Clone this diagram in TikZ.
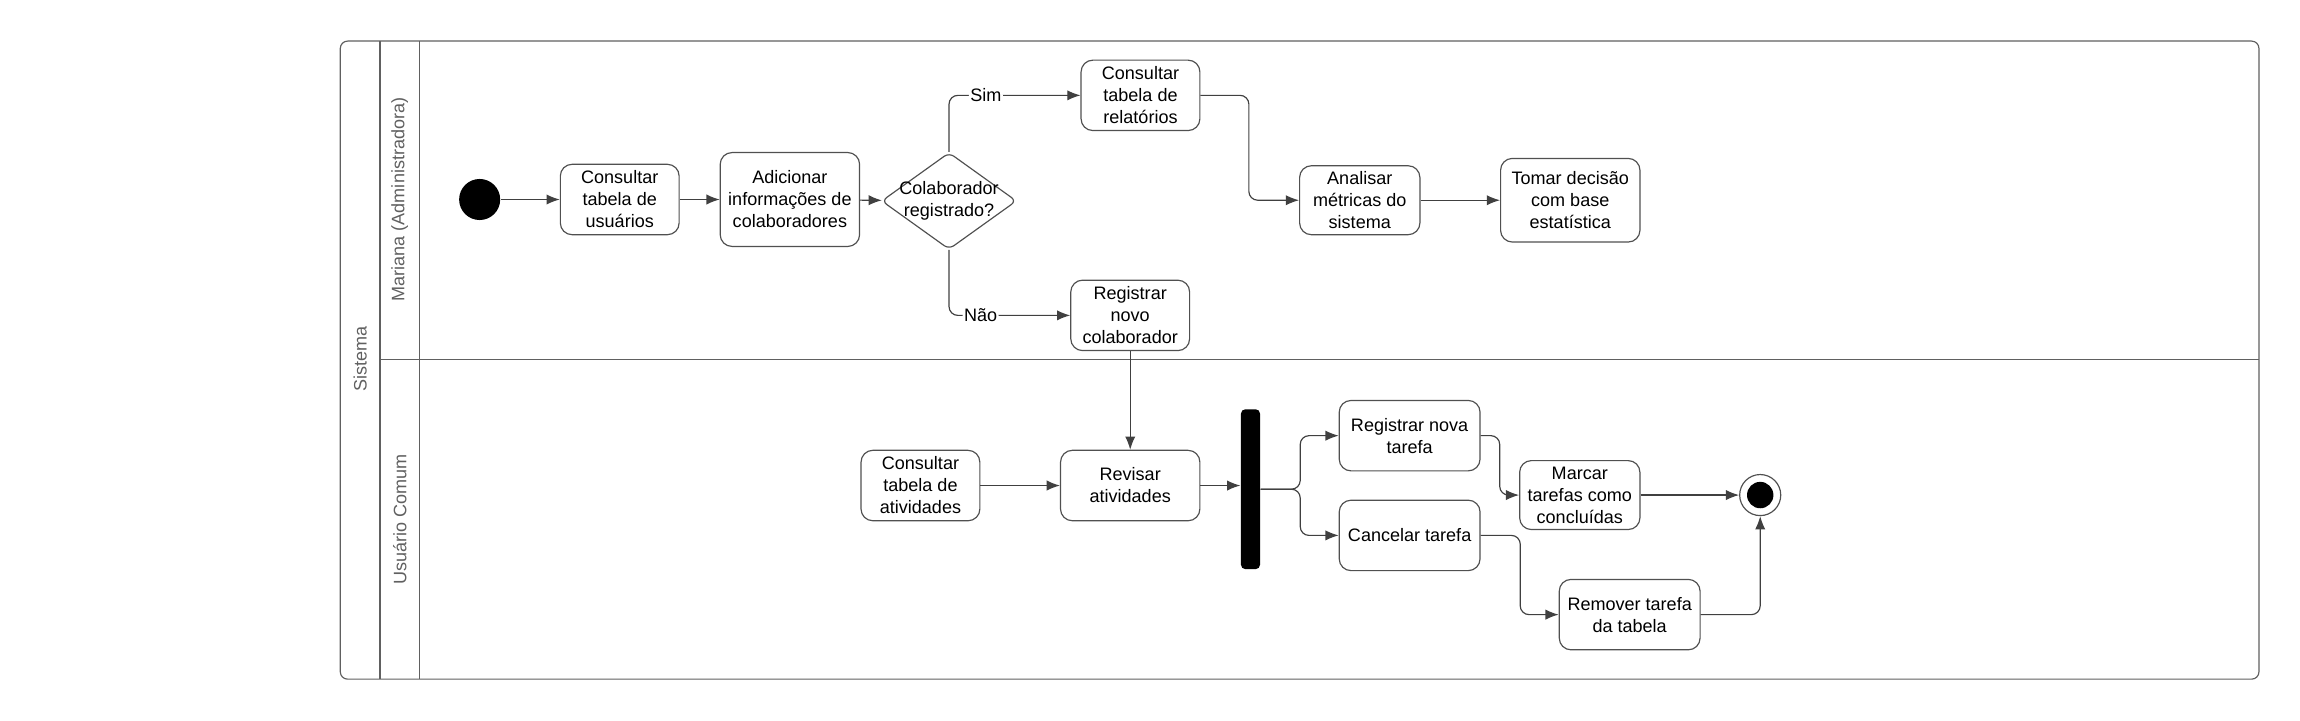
\documentclass[tikz,border=0pt]{standalone}
\usepackage{fontspec}
\setmainfont{Liberation Sans}
\usetikzlibrary{shapes.geometric,arrows.meta}
\definecolor{linha}{HTML}{404040}
\definecolor{borda}{HTML}{505050}
\definecolor{raia}{HTML}{606060}
\begin{document}
\begin{tikzpicture}[x=1pt,y=-1pt,line width=0.8pt,
	acao/.style={draw=borda,rounded corners=8pt,align=center,inner sep=2pt,font=\fontsize{12.3}{15}\selectfont},
	seta/.style={draw=linha,-{Latex[length=9pt,width=7pt]},rounded corners=6pt},
	rotulo/.style={fill=white,inner sep=1pt,font=\fontsize{12.3}{14}\selectfont},
	raiatexto/.style={rotate=90,text=raia,font=\fontsize{12.3}{14}\selectfont}]
	\useasboundingbox (0,0) rectangle (1568,491);

	% quadro e raias
	\draw[raia,rounded corners=5pt] (232,28) rectangle (1540,463);
	\draw[raia] (259,28) -- (259,463);
	\draw[raia] (286,28) -- (286,463);
	\draw[raia] (259,245) -- (1540,245);
	\node[raiatexto] (sistema) at (245.5,245) {Sistema};
	\node[raiatexto] (mariana) at (272.5,136) {Mariana (Administradora)};
	\node[raiatexto] (comum) at (272.5,354) {Usuário Comum};

	% Mariana
	\node[circle,fill=black,minimum size=28pt,inner sep=0pt] (inicio) at (327,136) {};
	\node[acao,minimum width=81pt,minimum height=48pt] (usu) at (422.5,136) {Consultar\\tabela de\\usuários};
	\node[acao,minimum width=95pt,minimum height=64pt] (adi) at (538.5,136) {Adicionar\\informações de\\colaboradores};
	\node[draw=borda,diamond,rounded corners=4pt,minimum width=92pt,minimum height=66pt,inner sep=0pt] (dec) at (647,137) {};
	\node[align=center,inner sep=0pt,font=\fontsize{12.3}{15}\selectfont] (dectexto) at (dec) {Colaborador\\registrado?};
	\node[acao,minimum width=81pt,minimum height=48pt] (rel) at (777.5,65) {Consultar\\tabela de\\relatórios};
	\node[acao,minimum width=82pt,minimum height=47pt] (ana) at (927,136.5) {Analisar\\métricas do\\sistema};
	\node[acao,minimum width=95pt,minimum height=57pt] (tom) at (1070.5,136.5) {Tomar decisão\\com base\\estatística};
	\node[acao,minimum width=81pt,minimum height=48pt] (rnc) at (770.5,215) {Registrar\\novo\\colaborador};

	% Usuario Comum
	\node[acao,minimum width=81pt,minimum height=48pt] (cta) at (627.5,331) {Consultar\\tabela de\\atividades};
	\node[acao,minimum width=95pt,minimum height=48pt] (rev) at (770.5,331) {Revisar\\atividades};
	\node[fill=black,rounded corners=3pt,minimum width=13pt,minimum height=109pt,inner sep=0pt] (barra) at (852.5,333.5) {};
	\node[acao,minimum width=96pt,minimum height=48pt] (rnt) at (961,297) {Registrar nova\\tarefa};
	\node[acao,minimum width=96pt,minimum height=48pt] (can) at (961,365) {Cancelar tarefa};
	\node[acao,minimum width=82pt,minimum height=47pt] (mar) at (1077,337.5) {Marcar\\tarefas como\\concluídas};
	\node[acao,minimum width=96pt,minimum height=48pt] (rem) at (1111,419) {Remover tarefa\\da tabela};
	\node[circle,draw=borda,fill=white,minimum size=28pt,inner sep=0pt] (fim) at (1200,337.5) {};
	\node[circle,fill=black,minimum size=18pt,inner sep=0pt] at (fim) {};

	% fluxos
	\draw[seta] (inicio) -- (usu);
	\draw[seta] (usu) -- (adi);
	\draw[seta] (adi) -- (dec);
	\draw[seta] (dec.north) |- node[rotulo,pos=0.64] {Sim} (rel.west);
	\draw[seta] (dec.south) |- node[rotulo,pos=0.63] {Não} (rnc.west);
	\draw[seta] (rel.east) -- ++(33,0) |- (ana.west);
	\draw[seta] (ana) -- (tom);
	\draw[seta] (rnc.south) -- (rev.north);
	\draw[seta] (cta) -- (rev);
	\draw[seta] (rev.east) -- (rev.east -| barra.west);
	\draw[seta] (barra.east) -- ++(27,0) |- (rnt.west);
	\draw[seta] (barra.east) -- ++(27,0) |- (can.west);
	\draw[seta] (rnt.east) -- ++(13,0) |- (mar.west);
	\draw[seta] (can.east) -- ++(27,0) |- (rem.west);
	\draw[seta] (mar) -- (fim);
	\draw[seta] (rem.east) -| (fim.south);
\end{tikzpicture}
\end{document}
